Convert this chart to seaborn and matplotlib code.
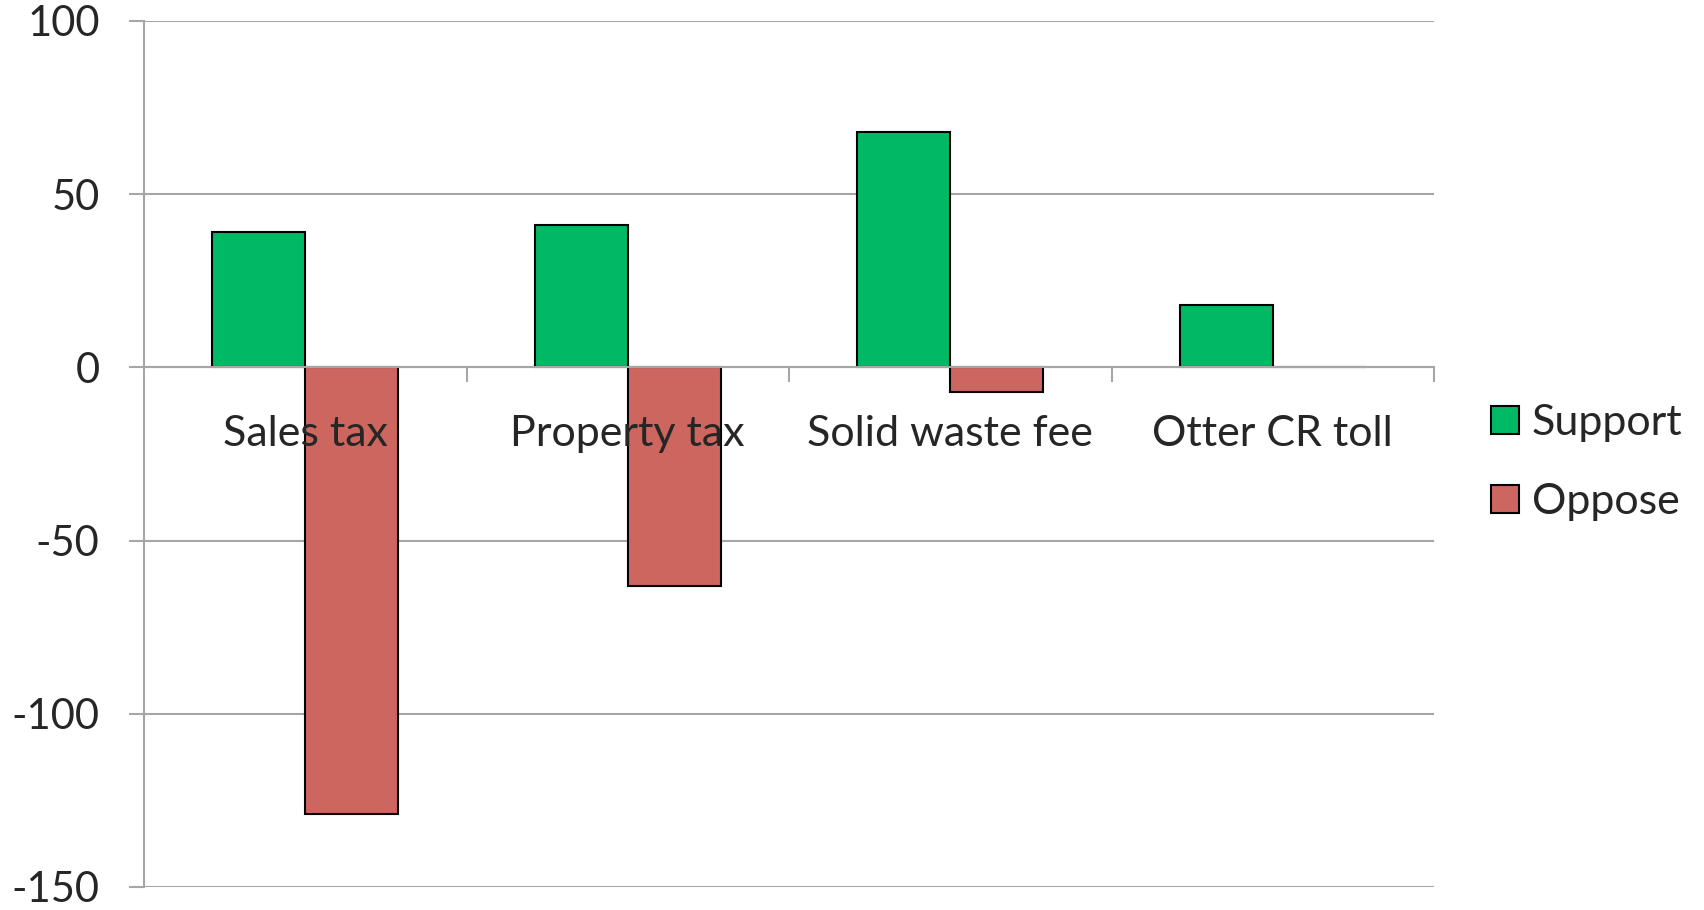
import matplotlib
matplotlib.use("Agg")
import matplotlib.pyplot as plt
import seaborn as sns
import pandas as pd

categorias = ["Sales tax", "Property tax", "Solid waste fee", "Otter CR toll"]
apoio = [39, 41, 68, 18]
oposicao = [-129, -63, -7, 0]
series = ["Support", "Oppose"]
cores = ["#00B964", "#CD665F"]

df = pd.DataFrame({
    "Item": categorias * 2,
    "Valor": apoio + oposicao,
    "Posicao": [series[0]] * 4 + [series[1]] * 4,
})

sns.set_style("white")
plt.rcParams["font.family"] = ["Lato", "DejaVu Sans"]
plt.rcParams["axes.unicode_minus"] = False
cinza = "#A6A6A6"

fig = plt.figure(figsize=(17.04, 9.10), dpi=100)
ax = fig.add_axes([144 / 1704, 1 - 887 / 910, (1434 - 144) / 1704, (887 - 21) / 910])

sns.barplot(data=df, x="Item", y="Valor", hue="Posicao", hue_order=series,
            palette=cores, width=0.577, edgecolor="black", linewidth=1.5,
            saturation=1, errorbar=None, ax=ax)

ax.set_ylim(-150, 100)
ax.set_xlim(-0.5, 3.5)
ax.set_yticks([-150, -100, -50, 0, 50, 100])
ax.yaxis.grid(True, color=cinza, linewidth=1.5)
ax.set_axisbelow(True)
# rótulos das categorias por cima das barras
ax.xaxis.set_zorder(3)
ax.set_xlabel("")
ax.set_ylabel("")

for lado in ["top", "right"]:
    ax.spines[lado].set_visible(False)
ax.spines["left"].set_color(cinza)
ax.spines["left"].set_linewidth(1.5)
ax.spines["bottom"].set_color(cinza)
ax.spines["bottom"].set_linewidth(1.5)
ax.spines["bottom"].set_position(("data", 0))

ax.tick_params(axis="y", left=True, length=11, width=1.5, color=cinza,
               labelsize=30, pad=21)
ax.tick_params(axis="x", which="major", bottom=True, length=0, labelsize=31, pad=34)
ax.set_xticks([0.5, 1.5, 2.5, 3.5], minor=True)
ax.tick_params(axis="x", which="minor", bottom=True, length=11, width=1.5,
               color=cinza, direction="out")

handles, labels = ax.get_legend_handles_labels()
ax.legend(handles, labels, loc="center left", bbox_to_anchor=(1.014, 0.49),
          frameon=False, fontsize=31, handlelength=0.65, handleheight=0.65,
          handletextpad=0.3, labelspacing=0.95)

fig.savefig("out.png", dpi=100)
